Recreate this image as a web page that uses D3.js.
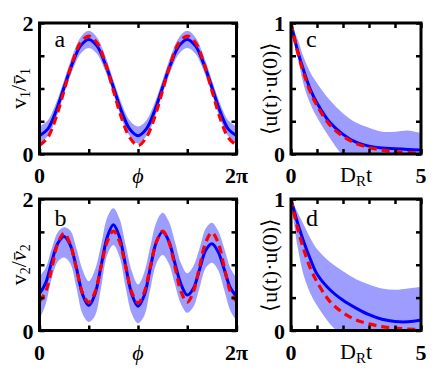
<!DOCTYPE html>
<html><head><meta charset="utf-8">
<script src="https://cdn.jsdelivr.net/npm/d3@7"></script>
<style>body{margin:0;background:#fff}svg{display:block}</style>
</head><body>
<svg id="chart" width="437" height="389"></svg>
<script>
// ---------- DATA ----------
// panel a: phi = k*pi/12, k = 0..24
const phiA = d3.range(25).map(k => k * Math.PI / 12);
const aBlue  = [0.28,0.38,0.65,1.02,1.38,1.65,1.75,1.65,1.38,1.02,0.65,0.38,0.28,0.38,0.65,1.02,1.38,1.65,1.75,1.65,1.38,1.02,0.65,0.38,0.28];
const aRed   = [0.13,0.25,0.55,0.97,1.40,1.70,1.80,1.70,1.40,0.97,0.55,0.25,0.13,0.25,0.55,0.97,1.40,1.70,1.80,1.70,1.40,0.97,0.55,0.25,0.13];
const aLow   = [0.16,0.27,0.54,0.92,1.27,1.53,1.62,1.53,1.27,0.92,0.54,0.27,0.16,0.27,0.54,0.92,1.27,1.53,1.62,1.53,1.27,0.92,0.54,0.27,0.16];
const aHigh  = [0.42,0.51,0.77,1.13,1.50,1.78,1.88,1.78,1.50,1.13,0.77,0.51,0.42,0.51,0.77,1.13,1.50,1.78,1.88,1.78,1.50,1.13,0.77,0.51,0.42];
// panel b: phi = k*pi/16, k = 0..32
const phiB = d3.range(33).map(k => k * Math.PI / 16);
const bBlue  = [0.56,0.72,1.05,1.33,1.43,1.30,0.95,0.55,0.38,0.55,0.98,1.42,1.61,1.42,0.98,0.55,0.37,0.53,0.95,1.35,1.50,1.36,1.02,0.70,0.54,0.64,0.93,1.22,1.32,1.20,0.93,0.65,0.52];
const bRed   = [0.44,0.59,0.95,1.33,1.48,1.31,0.94,0.57,0.43,0.58,0.97,1.35,1.51,1.35,0.97,0.58,0.42,0.58,0.97,1.35,1.51,1.35,0.97,0.59,0.43,0.59,0.97,1.34,1.49,1.34,0.97,0.59,0.44];
const bLow   = [0.17,0.40,0.80,1.05,1.11,1.02,0.65,0.25,0.13,0.22,0.65,1.15,1.30,1.12,0.65,0.25,0.11,0.22,0.63,1.02,1.15,1.02,0.70,0.40,0.27,0.36,0.65,0.95,1.03,0.92,0.62,0.30,0.15];
const bHigh  = [0.82,0.95,1.25,1.50,1.57,1.52,1.25,0.92,0.75,0.92,1.30,1.72,1.86,1.70,1.30,0.90,0.70,0.88,1.28,1.65,1.79,1.66,1.35,1.02,0.87,0.98,1.25,1.55,1.64,1.52,1.25,0.95,0.80];
// panels c, d: D_R t
const tCD = [0,0.25,0.5,0.75,1,1.5,2,2.5,3,3.5,4,4.5,5];
const cBlue = [1,0.79,0.63,0.49,0.39,0.24,0.15,0.09,0.06,0.045,0.04,0.035,0.03];
const cRed  = [1,0.78,0.61,0.47,0.37,0.22,0.135,0.08,0.05,0.03,0.018,0.011,0.007];
const cLow  = [1,0.75,0.52,0.38,0.28,0.12,-0.01,-0.06,-0.1,-0.1,-0.1,-0.1,-0.1];
const cHigh = [1,0.88,0.73,0.62,0.54,0.41,0.31,0.24,0.20,0.17,0.17,0.18,0.16];
const dBlue = [1,0.82,0.67,0.54,0.43,0.31,0.23,0.17,0.12,0.085,0.068,0.066,0.08];
const dRed  = [1,0.78,0.61,0.47,0.37,0.22,0.135,0.08,0.05,0.03,0.018,0.011,0.007];
const dLow  = [1,0.64,0.41,0.28,0.19,0.05,-0.04,-0.1,-0.1,-0.1,-0.1,-0.1,-0.1];
const dHigh = [1,0.90,0.80,0.70,0.62,0.52,0.45,0.39,0.35,0.32,0.31,0.32,0.33];

const phiTicks = [0, Math.PI/2, Math.PI, 3*Math.PI/2, 2*Math.PI];
const phiTickLabels = ["0", "", "", "", "2\u03c0"];
const vTicks = [0, 0.5, 1, 1.5, 2];
const vTickLabels = ["0", "", "", "", "2"];
const tTicks = [0, 1, 2, 3, 4, 5];
const tTickLabels = ["0", "", "", "", "", "5"];
const cTicks = [0, 0.25, 0.5, 0.75, 1];
const cTickLabels = ["0", "", "", "", "1"];

// ---------- DRAW ----------
const svg = d3.select("#chart");
const BLUE = "#0000ff", BAND = "#9d9dff", RED = "#ff0000";
const SERIF = '"Liberation Serif"';
const txt = (sel) => sel.append("text").style("font-family", SERIF);

const panels = [
  {id:"a", x0:39.5, x1:236.5, y0:23, y1:154, xs:phiA, blue:aBlue, red:aRed, lo:aLow, hi:aHigh,
   xd:[0,2*Math.PI], yd:[0,2], xt:phiTicks, xtl:phiTickLabels, yt:vTicks, ytl:vTickLabels, xl:"phi", yl:"v1"},
  {id:"b", x0:39.5, x1:236.5, y0:199, y1:330.5, xs:phiB, blue:bBlue, red:bRed, lo:bLow, hi:bHigh,
   xd:[0,2*Math.PI], yd:[0,2], xt:phiTicks, xtl:phiTickLabels, yt:vTicks, ytl:vTickLabels, xl:"phi", yl:"v2"},
  {id:"c", x0:291, x1:421, y0:23, y1:154, xs:tCD, blue:cBlue, red:cRed, lo:cLow, hi:cHigh,
   xd:[0,5], yd:[0,1], xt:tTicks, xtl:tTickLabels, yt:cTicks, ytl:cTickLabels, xl:"t", yl:"corr"},
  {id:"d", x0:291, x1:421, y0:199, y1:330.5, xs:tCD, blue:dBlue, red:dRed, lo:dLow, hi:dHigh,
   xd:[0,5], yd:[0,1], xt:tTicks, xtl:tTickLabels, yt:cTicks, ytl:cTickLabels, xl:"t", yl:"corr"}
];

panels.forEach(p => {
  const x = d3.scaleLinear().domain(p.xd).range([p.x0, p.x1]);
  const y = d3.scaleLinear().domain(p.yd).range([p.y1, p.y0]);
  const g = svg.append("g");
  const clipId = "clip-" + p.id;
  svg.append("clipPath").attr("id", clipId).append("rect")
    .attr("x", p.x0).attr("y", p.y0).attr("width", p.x1 - p.x0).attr("height", p.y1 - p.y0);
  const plot = g.append("g").attr("clip-path", `url(#${clipId})`);
  const idx = d3.range(p.xs.length);
  const curve = d3.curveCatmullRom.alpha(0.5);
  plot.append("path")
    .attr("d", d3.area().x(i => x(p.xs[i])).y0(i => y(p.lo[i])).y1(i => y(p.hi[i])).curve(curve)(idx))
    .attr("fill", BAND);
  plot.append("path")
    .attr("d", d3.line().x(i => x(p.xs[i])).y(i => y(p.blue[i])).curve(curve)(idx))
    .attr("fill", "none").attr("stroke", BLUE).attr("stroke-width", 3);
  plot.append("path")
    .attr("d", d3.line().x(i => x(p.xs[i])).y(i => y(p.red[i])).curve(curve)(idx))
    .attr("fill", "none").attr("stroke", RED).attr("stroke-width", 3.2).attr("stroke-dasharray", "8,5");

  // inward ticks on all sides
  const tl = 5;
  const axB = d3.axisBottom(x).tickValues(p.xt).tickSize(-tl).tickFormat("");
  const axT = d3.axisTop(x).tickValues(p.xt).tickSize(-tl).tickFormat("");
  const axL = d3.axisLeft(y).tickValues(p.yt).tickSize(-tl).tickFormat("");
  const axR = d3.axisRight(y).tickValues(p.yt).tickSize(-tl).tickFormat("");
  [[axB,`translate(0,${p.y1})`],[axT,`translate(0,${p.y0})`],[axL,`translate(${p.x0},0)`],[axR,`translate(${p.x1},0)`]]
    .forEach(([ax,tr]) => {
      const a = g.append("g").attr("transform", tr).call(ax);
      a.select(".domain").remove();
      a.selectAll("line").attr("stroke", "#000").attr("stroke-width", 2.5);
    });
  g.append("rect").attr("x", p.x0).attr("y", p.y0).attr("width", p.x1 - p.x0).attr("height", p.y1 - p.y0)
    .attr("fill", "none").attr("stroke", "#000").attr("stroke-width", 3);

  // tick labels
  p.xt.forEach((v, i) => {
    if (!p.xtl[i]) return;
    txt(g).attr("x", x(v)).attr("y", p.y1 + 29).attr("text-anchor", "middle")
      .style("font-weight", "bold").style("font-size", "22px").text(p.xtl[i]);
  });
  p.yt.forEach((v, i) => {
    if (!p.ytl[i]) return;
    txt(g).attr("x", p.x0 - 6).attr("y", y(v) + 8).attr("text-anchor", "end")
      .style("font-weight", "bold").style("font-size", "22px").text(p.ytl[i]);
  });

  // x label
  const xm = (p.x0 + p.x1) / 2;
  if (p.xl === "phi") {
    txt(g).attr("x", xm).attr("y", p.y1 + 29).attr("text-anchor", "middle")
      .style("font-style", "italic").style("font-size", "22px").text("\u03d5");
  } else {
    const t = txt(g).attr("x", xm).attr("y", p.y1 + 28).attr("text-anchor", "middle")
      .style("font-size", "22px");
    t.append("tspan").text("D");
    t.append("tspan").style("font-size", "15px").attr("dy", 4).text("R");
    t.append("tspan").attr("dy", -4).text("t");
  }

  // y label
  const ym = (p.y0 + p.y1) / 2;
  const lx = p.x0 - 14;
  const yt = txt(g).attr("transform", `translate(${lx},${ym}) rotate(-90)`)
    .attr("text-anchor", "middle").style("font-size", "22px");
  if (p.yl === "corr") {
    yt.text("\u27e8u(t)\u00b7u(0)\u27e9");
  } else {
    const n = p.yl === "v1" ? "1" : "2";
    yt.append("tspan").text("v");
    yt.append("tspan").style("font-size", "14px").attr("dy", 4).text(n);
    yt.append("tspan").attr("dy", -4).text("/");
    yt.append("tspan").style("font-style", "italic").text("v\u0304");
    yt.append("tspan").style("font-size", "14px").attr("dy", 4).text(n);
  }

  // panel letter
  txt(g).attr("x", p.x0 + 15).attr("y", p.y0 + (p.id === "a" || p.id === "c" ? 24 : 27))
    .style("font-size", "24px").text(p.id);
});
</script>
</body></html>
